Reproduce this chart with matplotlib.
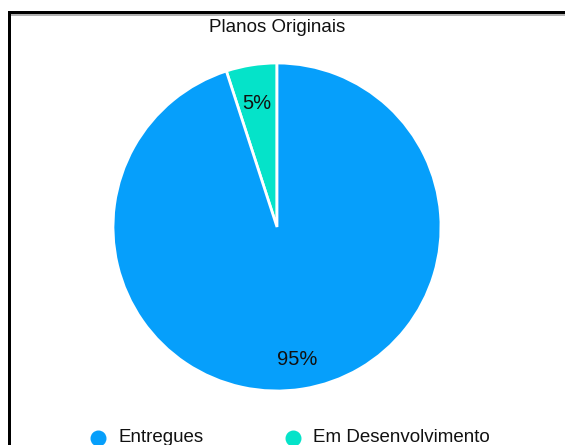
import matplotlib
matplotlib.use("Agg")
import matplotlib.pyplot as plt
from matplotlib.lines import Line2D
from matplotlib.patches import Rectangle

plt.rcParams['font.family'] = ['Liberation Sans', 'DejaVu Sans']

title = "Planos Originais"
categories = ["Entregues", "Em Desenvolvimento"]
values = [95, 5]
colors = ["#069ffb", "#05e3c9"]

W, H = 565, 445
fig = plt.figure(figsize=(W / 100, H / 100), dpi=100)

def fx(px):
    return px / W

def fy(py):
    return 1 - py / H

# frame (screenshot border)
fig.add_artist(Rectangle((fx(8), fy(H)), fx(3), fy(11) - fy(H), transform=fig.transFigure,
                         color="black", lw=0))
fig.add_artist(Rectangle((fx(8), fy(14)), 1 - fx(8), fy(11) - fy(14), transform=fig.transFigure,
                         color="black", lw=0))
fig.add_artist(Rectangle((fx(11), fy(16)), 1 - fx(11), fy(14) - fy(16), transform=fig.transFigure,
                         color="#b0b0b0", lw=0))

cx, cy, r = 277, 227, 164
ax = fig.add_axes([fx(cx - r), fy(cy + r), 2 * r / W, 2 * r / H])
# counterclockwise from top so the small slice sits left of 12 o'clock
wedges, texts, autotexts = ax.pie(values[::-1], colors=colors[::-1], startangle=90, counterclock=True,
                                  autopct='%d%%', pctdistance=0.79, radius=1,
                                  wedgeprops=dict(edgecolor='white', linewidth=2),
                                  textprops=dict(fontsize=14.5, color='#111111'))
for t in autotexts:
    x, y = t.get_position()
    t.set_position((x, y - 0.025))
ax.set_xlim(-1, 1)
ax.set_ylim(-1, 1)
ax.set_aspect('equal')
ax.axis('off')

fig.text(fx(277), fy(28), title, ha='center', va='center', fontsize=13.5, color='#111111')

marker_x = [98, 293]
for cat, col, mx in zip(categories, colors, marker_x):
    fig.add_artist(Line2D([fx(mx)], [fy(438)], marker='o', linestyle='none', markersize=10.5,
                          markerfacecolor=col, markeredgecolor=col, transform=fig.transFigure))
    fig.text(fx(mx + 20), fy(438), cat, ha='left', va='center', fontsize=13.5, color='#111111')

fig.savefig("out.png", dpi=100)
